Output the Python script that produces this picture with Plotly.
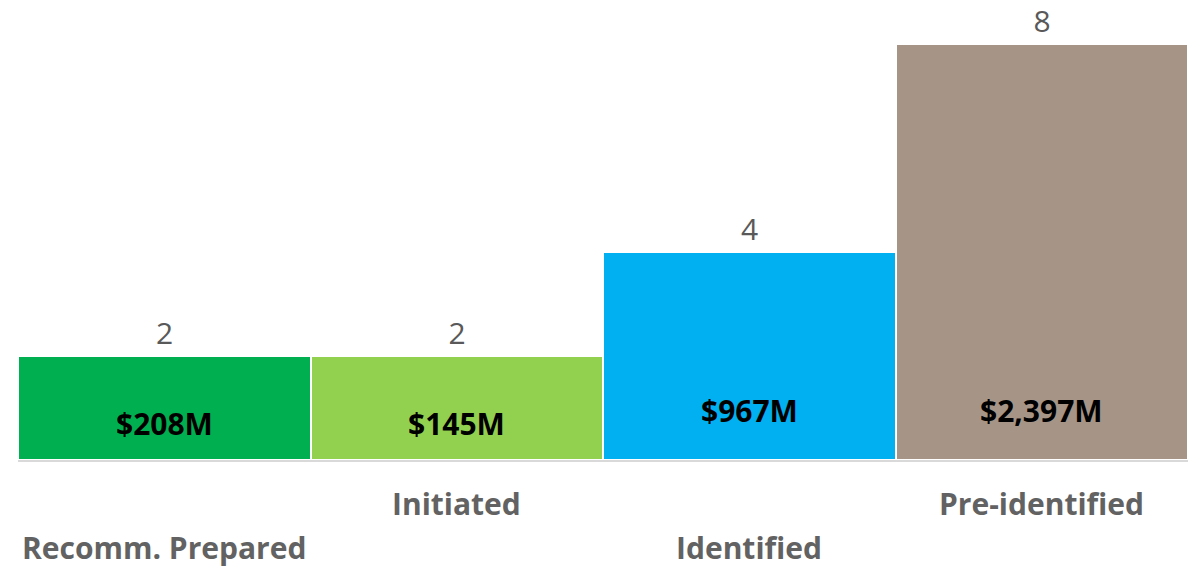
import plotly.graph_objects as go

categories = ["Recomm. Prepared", "Initiated", "Identified", "Pre-identified"]
counts = [2, 2, 4, 8]
amounts = ["$208M", "$145M", "$967M", "$2,397M"]
colors = ["#00B050", "#92D050", "#00B0F0", "#A69587"]

FONT = "Open Sans"
fig = go.Figure()
fig.add_trace(go.Bar(
    x=categories, y=counts,
    marker=dict(color=colors, line=dict(color="white", width=2)),
    text=[str(c) for c in counts], textposition="outside",
    textfont=dict(family=FONT, size=30, color="#595959"),
    cliponaxis=False, hoverinfo="skip",
))

annotations = []
for i, (cat, amt, c) in enumerate(zip(categories, amounts, counts)):
    annotations.append(dict(
        x=cat, y=0, xref="x", yref="y", text=f"<b>{amt}</b>", showarrow=False,
        yanchor="middle", yshift=(37 if c <= 2 else 50),
        font=dict(family=FONT, size=30, color="black"),
    ))
    annotations.append(dict(
        x=cat, y=0, xref="x", yref="y", text=f"<b>{cat}</b>", showarrow=False,
        yanchor="middle", yshift=(-87 if i % 2 == 0 else -43),
        font=dict(family=FONT, size=30, color="#626262"),
    ))

fig.update_layout(
    width=1200, height=569,
    margin=dict(l=18, r=12, t=44, b=109),
    paper_bgcolor="white", plot_bgcolor="white",
    bargap=0, showlegend=False,
    annotations=annotations,
    xaxis=dict(showticklabels=False, showgrid=False, zeroline=False,
               showline=True, linecolor="#D9D9D9", linewidth=2, ticks=""),
    yaxis=dict(range=[0, 8], visible=False, showgrid=False, zeroline=False),
)
fig.write_html("out.html")
